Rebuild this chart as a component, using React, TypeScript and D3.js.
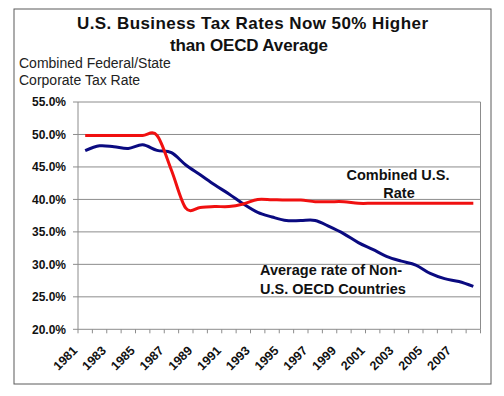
import React from "react";
import * as d3 from "d3";

const years = ["1981","1982","1983","1984","1985","1986","1987","1988","1989","1990","1991","1992","1993","1994","1995","1996","1997","1998","1999","2000","2001","2002","2003","2004","2005","2006","2007","2008"];
const usRate = [49.85,49.85,49.85,49.85,49.85,49.85,44.5,38.65,38.75,38.9,38.9,39.3,40.0,39.95,39.9,39.9,39.65,39.65,39.65,39.4,39.4,39.4,39.4,39.4,39.4,39.4,39.4,39.4];
const oecdRate = [47.5,48.25,48.1,47.85,48.4,47.55,47.2,45.3,43.8,42.25,40.85,39.3,38.0,37.3,36.75,36.75,36.75,35.8,34.7,33.35,32.3,31.2,30.5,29.9,28.6,27.8,27.35,26.6];
const yTicks = [20,25,30,35,40,45,50,55];
const xLabels = ["1981","1983","1985","1987","1989","1991","1993","1995","1997","1999","2001","2003","2005","2007"];

export default function App() {
  const left = 78, right = 480.5, top = 102, bottom = 329.3;
  const x = d3.scaleBand<string>().domain(years).range([left, right]).padding(0);
  const y = d3.scaleLinear().domain([20, 55]).range([bottom, top]);
  const cx = (yr: string) => (x(yr) as number) + x.bandwidth() / 2;
  const line = d3.line<number>()
    .x((_, i) => cx(years[i]))
    .y((d) => y(d))
    .curve(d3.curveCardinal.tension(0));
  const grid = "#8c8c8c";
  const bold = { fontFamily: "'Liberation Sans', Arial, sans-serif", fontWeight: 700 } as const;
  const reg = { fontFamily: "'Liberation Sans', Arial, sans-serif", fontWeight: 400 } as const;
  const boundaries = d3.range(years.length + 1).map((i) => left + i * x.bandwidth());
  return (
    <svg width={504} height={396} style={{ position: "absolute", left: 0, top: 0, background: "#fff" }}>
      <rect x={14} y={9} width={477} height={375} fill="#fff" stroke="#5a5a5a" strokeWidth={1} />
      <text x={77} y={28.5} fontSize={17} textLength={351} lengthAdjust="spacing" style={bold} fill="#111">U.S. Business Tax Rates Now 50% Higher</text>
      <text x={170} y={51} fontSize={17} textLength={158} lengthAdjust="spacing" style={bold} fill="#111">than OECD Average</text>
      <text x={19} y={68} fontSize={14} style={reg} fill="#222">Combined Federal/State</text>
      <text x={19} y={85} fontSize={14} style={reg} fill="#222">Corporate Tax Rate</text>
      {yTicks.map((t) => (
        <g key={t}>
          <line x1={left} x2={right} y1={y(t)} y2={y(t)} stroke={grid} strokeWidth={1} />
          <line x1={left - 5} x2={left} y1={y(t)} y2={y(t)} stroke={grid} strokeWidth={1} />
          <text x={66} y={y(t) + 4.3} fontSize={12} textAnchor="end" style={bold} fill="#111">{t.toFixed(1) + "%"}</text>
        </g>
      ))}
      <line x1={left} x2={left} y1={top} y2={bottom} stroke={grid} strokeWidth={1} />
      <line x1={right} x2={right} y1={top} y2={bottom} stroke={grid} strokeWidth={1} />
      {boundaries.map((b, i) => (
        <line key={i} x1={b} x2={b} y1={bottom} y2={bottom + 4} stroke={grid} strokeWidth={1} />
      ))}
      {xLabels.map((lab) => (
        <text key={lab} transform={`translate(${cx(lab) - 7},${bottom + 22}) rotate(-45)`} fontSize={12.5} textAnchor="end" style={bold} fill="#111">{lab}</text>
      ))}
      <path d={line(oecdRate) || ""} fill="none" stroke="#0a0a80" strokeWidth={3} strokeLinejoin="round" />
      <path d={line(usRate) || ""} fill="none" stroke="#f01010" strokeWidth={3} strokeLinejoin="round" />
      <text x={398} y={180} fontSize={14.5} textAnchor="middle" style={bold} fill="#111">Combined U.S.</text>
      <text x={399} y={197.5} fontSize={14.5} textAnchor="middle" style={bold} fill="#111">Rate</text>
      <text x={260} y={275} fontSize={14.5} style={bold} fill="#111">Average rate of Non-</text>
      <text x={260} y={294} fontSize={14.5} style={bold} fill="#111">U.S. OECD Countries</text>
    </svg>
  );
}
